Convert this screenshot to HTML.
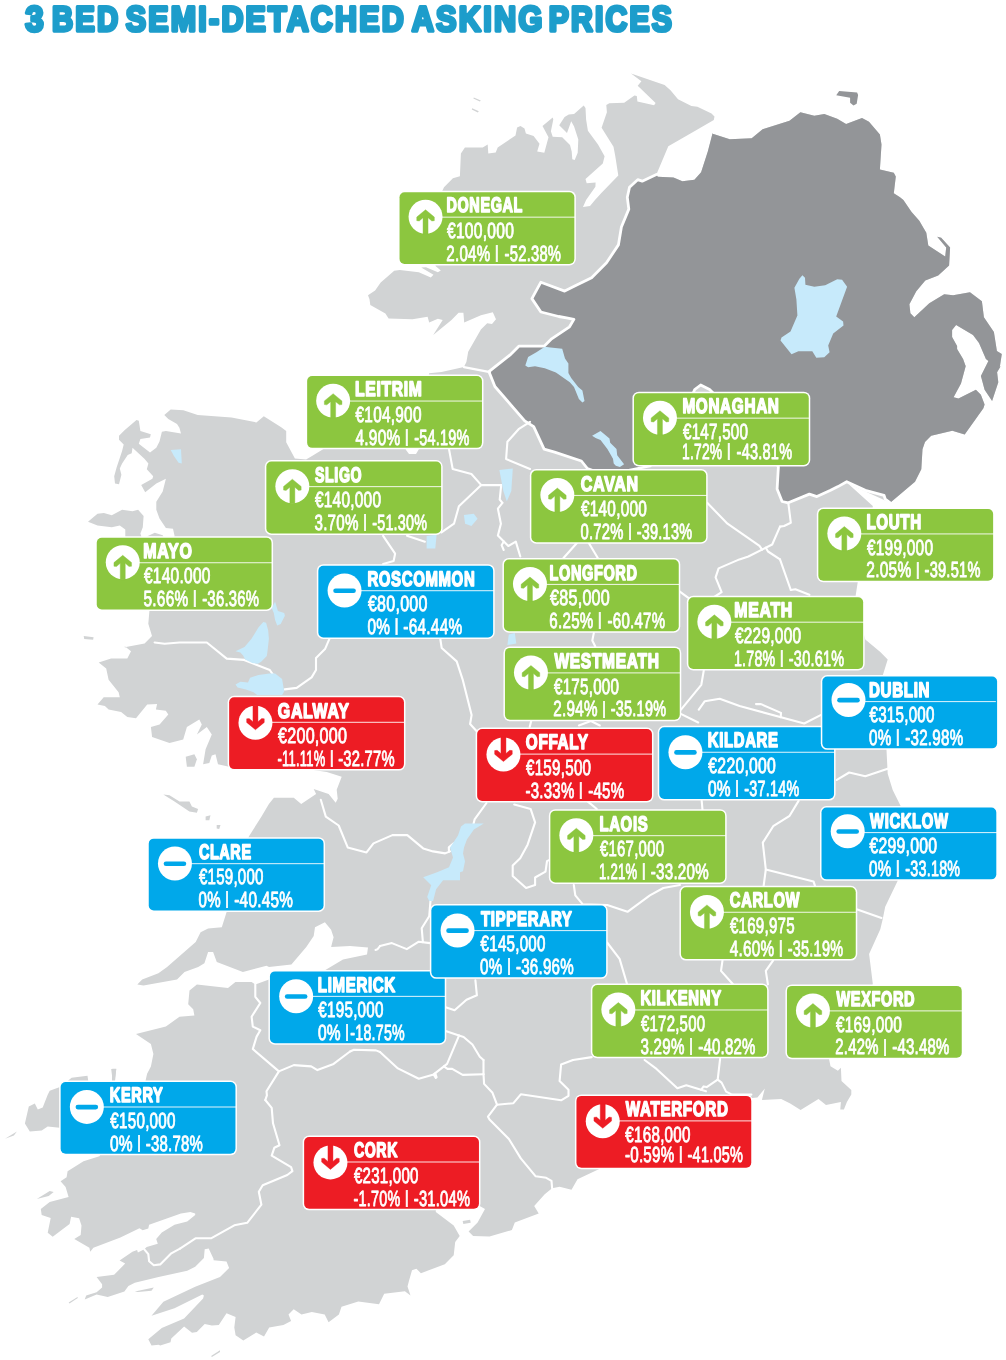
<!DOCTYPE html>
<html lang="en">
<head>
<meta charset="utf-8">
<title>3 Bed Semi-Detached Asking Prices</title>
<style>
html,body{margin:0;padding:0;background:#fff;}
body{width:1006px;height:1360px;overflow:hidden;}
svg{display:block;}
text{font-family:"Liberation Sans",sans-serif;font-weight:bold;fill:#fff;stroke:#fff;stroke-linejoin:round;text-rendering:geometricPrecision;}
.n{font-size:20.9px;stroke-width:1.6px;letter-spacing:0.9px;}
.v{font-size:22.0px;stroke-width:0.9px;letter-spacing:0.35px;}
.v,.p{font-weight:normal;}
.p{font-size:17.6px;stroke-width:.5px;}
.t{font-size:35.3px;letter-spacing:2.6px;fill:#1d9dcb;stroke:#1d9dcb;stroke-width:3.5px;stroke-linejoin:round;}
.land{fill:#d1d3d4;}
.ni{fill:#939598;}
.lake{fill:#c7eafb;}
.bd{fill:none;stroke:#fff;stroke-width:2.1;stroke-linejoin:round;stroke-linecap:round;}
</style>
</head>
<body>
<svg width="1006" height="1360" viewBox="0 0 1006 1360">
<rect width="1006" height="1360" fill="#fff"/>
<text class="t" id="title"><tspan class="t" x="25.19" y="31.15" textLength="20.78" lengthAdjust="spacingAndGlyphs">3</tspan> <tspan class="t" x="51.90" y="31.15" textLength="68.43" lengthAdjust="spacingAndGlyphs">BED</tspan> <tspan class="t" x="125.74" y="31.15" textLength="280.25" lengthAdjust="spacingAndGlyphs">SEMI-DETACHED</tspan> <tspan class="t" x="411.73" y="31.15" textLength="132.79" lengthAdjust="spacingAndGlyphs">ASKING</tspan> <tspan class="t" x="548.74" y="31.15" textLength="125.32" lengthAdjust="spacingAndGlyphs">PRICES</tspan></text>
<g id="map">
<path class="land" d="M847.9 483.6 L872.8 506 L872 520 L862 560 L857.9 581.1 L855.4 597.3 L860 620 L865.3 639.5 L880.3 651.9 L887.7 659.4 L882.7 675.6 L884 710 L886.5 750.1 L887.7 773.7 L892.7 790 L901.4 807.4 L903 850 L897.7 880.7 L885.2 906.8 L882.7 919.2 L880.3 929.2 L869.1 954 L872.8 983.8 L860 1030 L829 1058.8 L830.5 1066.2 L837.9 1070.7 L840.9 1067.7 L841.5 1081.1 L851.3 1090.1 L851.3 1094.6 L846.9 1102 L843.9 1109.5 L840.3 1109.5 L840.9 1102 L826 1105 L818.5 1099 L800.6 1110.1 L790.2 1103.5 L781.2 1099 L761.9 1099.9 L764.8 1088.6 L757.4 1097.5 L752 1098.1 L700 1130 L599.8 1168.8 L577.5 1179.3 L571.5 1189.7 L559.6 1186.7 L552.1 1188.2 L544.7 1194.2 L534.2 1206.1 L538.7 1213.6 L514.8 1222.5 L511.9 1230 L489.5 1236.5 L473.1 1235.9 L468.6 1231.5 L477.6 1222.5 L485 1209.1 L479.7 1206.1 L435.8 1206.1 L435.8 1212.1 L453.7 1225.5 L459.7 1235.9 L455.2 1241.9 L453.7 1255.3 L444.8 1264.3 L420.9 1273.2 L416.4 1268.7 L412 1270.2 L409 1280.7 L407.5 1286.6 L410.5 1295.6 L404.9 1291.3 L384.2 1293.8 L379 1304.2 L358.3 1301.6 L341.5 1306.8 L338.9 1314.5 L328.6 1322.3 L324.7 1314.5 L311.8 1311.9 L301.5 1314.5 L293.7 1309.3 L288.5 1314.5 L291.1 1321 L283.4 1324.9 L269.2 1327.4 L264 1336.5 L256.2 1332.6 L243.3 1340.4 L235.6 1335.2 L234.3 1327.4 L235.6 1317.1 L226.5 1313.2 L218.8 1324.9 L211.9 1325.6 L204.7 1324.1 L196.8 1332 L192 1332.8 L184.1 1326.4 L171.3 1338.4 L170.5 1342.3 L160.2 1345.5 L158.6 1344.7 L151.5 1345.5 L148.3 1339.2 L161.8 1328 L184.1 1318.5 L203.1 1298.6 L203.9 1295.4 L202.3 1294.6 L174.5 1308.2 L151.5 1315.8 L163.4 1301.8 L195.2 1286.7 L220 1277.1 L229.1 1268 L226.5 1261.5 L213.6 1260.2 L213.5 1258.8 L208.7 1248.5 L204.7 1249.3 L203.9 1258.1 L195.2 1266.8 L187.2 1270.8 L158.6 1277.1 L134.8 1282.7 L128.4 1285.9 L124.4 1291.5 L107.7 1297 L96.6 1294.6 L84.7 1299.4 L86.2 1295.4 L96.6 1292.2 L102.1 1287.5 L102.1 1284.3 L96.6 1277.1 L114.1 1274.8 L125.2 1263.6 L119.6 1260.4 L132.4 1251.7 L137.1 1250.1 L137.9 1252.5 L144.3 1249.3 L146.7 1246.9 L157.8 1243.7 L156.2 1239 L161.8 1232.6 L174.5 1224.7 L187.2 1221.5 L195.2 1215.1 L195.2 1213.5 L190.4 1211.9 L180.9 1213.5 L149.1 1224.7 L148.3 1228.6 L142.7 1230.2 L139.5 1228.3 L120.4 1237.4 L93.4 1247.7 L90.2 1251.7 L89.4 1247.7 L74.3 1239 L80.7 1235 L81.5 1225.4 L79.1 1218.3 L71.1 1216.7 L69.6 1223.9 L52.7 1236.8 L47.7 1232.8 L50.7 1217.9 L41.7 1215 L40.8 1209 L49.7 1202 L68.6 1197.1 L65.6 1187.1 L60.6 1181.2 L66.6 1177.2 L67.6 1171.2 L83.5 1161.3 L99.4 1156.3 L110 1140 L62 1128 L47.7 1126.5 L41.7 1130.5 L29.8 1131.5 L24.9 1123.5 L28.8 1106.6 L34.8 1103.6 L37.8 1109.6 L42.7 1107.6 L47.7 1094.7 L49.7 1090.7 L60.6 1086.7 L71.6 1077.8 L87.5 1075.8 L88.5 1082.7 L111.9 1082.7 L112.3 1068.8 L116.3 1068.8 L114.9 1082.7 L145.1 1082.7 L147.1 1073.8 L150.9 1066.4 L153.4 1054 L150.9 1044 L136 1034.1 L165.9 1026.6 L179.5 1016.7 L194.4 1015.4 L193.2 1009.2 L188.2 1004.3 L189.5 990.6 L196.9 984.4 L228 988.1 L235.4 981.9 L251.6 981.9 L255.3 984.4 L269 979.4 L300 985 L322 972 L343 959.5 L367 954.5 L368 947.5 L350 946 L331.1 947.1 L333.6 937.2 L331.1 929.7 L324.9 922.2 L315 927.2 L313.7 935.9 L306.3 947.1 L291.4 964.5 L269 967 L266.5 965.7 L242.9 971.9 L216.8 962 L213.1 952.1 L208.1 952.1 L204.4 963.3 L198.2 967 L184.5 971.9 L177 979.4 L143.5 985.6 L137.3 984.4 L142.2 979.4 L158.4 973.2 L167.1 967 L195.7 942.1 L200.6 932.2 L208.1 928.5 L221.8 927.2 L226.7 911.8 L235 880 L245 845 L249 836.3 L261.5 816.4 L268.9 804 L273.9 797.8 L293.8 797.8 L301.2 804 L316.1 794.1 L313.7 789.1 L328.6 794.1 L335.7 802.7 L337.7 798.7 L336.7 789.8 L341.7 776.8 L326.8 771.9 L300 768 L240 768 L229.2 766.7 L218 764.3 L215.5 754.3 L211.8 755.6 L209.3 763 L203.1 764.3 L205.6 749.3 L211.8 734.4 L206.8 727 L196.9 734.4 L201.8 724.5 L199.3 719.5 L186.9 727 L183.2 739.4 L169.5 743.1 L152.1 736.9 L150.9 727 L159.6 724.5 L168.3 714.6 L165.8 710.8 L155.9 709.6 L157.1 704.1 L147.2 704.6 L136 718.3 L127.3 717 L121.1 712.1 L108.6 709.6 L104.9 705.9 L97.5 704.6 L103.7 697.2 L119.8 697.2 L118.6 692.2 L108.6 679.8 L106.2 668.6 L98.7 662.4 L111.1 658.6 L127.3 658.6 L131 651.2 L124.8 646.2 L124.7 647.3 L144.6 643.5 L152 636.1 L148.3 623.7 L149.5 610 L160 600 L170 545 L174.6 536 L173 528.8 L165.9 528 L159.5 518.5 L156.3 509.7 L156.3 501.8 L162.7 491.5 L165.9 478.7 L156.3 483.5 L145.2 492.2 L141.2 485.1 L152.4 478.7 L153.2 476.3 L146.8 469.2 L148.4 463.6 L144.4 458.8 L132.5 447.7 L131.7 453.3 L127.7 454.9 L122.1 463.6 L119.8 468.4 L121.4 474.8 L119 484.3 L115 483.5 L114.2 476.3 L116.6 467.6 L122.1 450.9 L123.7 444.5 L119 439.8 L119 435.8 L124.5 430.2 L136.5 419.9 L138.8 420.7 L140.4 431 L148.4 433.4 L150.8 434.2 L150 437.4 L140.4 439 L138.8 443.7 L150 452.5 L156.3 447.7 L159.5 441.4 L161.9 431.8 L165.9 431 L181 433.4 L179.4 427.8 L177 423.9 L168.3 419.1 L164.3 415.1 L170.7 409.5 L183.4 410.3 L197.7 415.1 L231.5 417.4 L256.4 422.4 L263.8 416.2 L281.2 427.3 L286.2 431.1 L286.2 442.2 L294.9 458.4 L306.1 459.6 L312 456 L330 445 L404 445 L406 450 L409 454 L416 454 L419 449 L422 445 L428 380 L429.1 373.3 L441.5 372.1 L463.9 367.1 L466.4 362.1 L468.2 351.8 L480.9 329.5 L487.2 323.2 L492 324 L496 319.2 L492.8 312.3 L480.9 315.2 L464.2 322.4 L463.4 312.8 L458.6 312.8 L451.5 320 L433.2 335.1 L442.7 320 L437.9 318.7 L429.2 322.4 L427.6 316.8 L412.5 319.2 L388.6 318.4 L385.4 313.6 L370.3 304.9 L369.5 299.3 L368 295.3 L375.1 290.6 L380.7 282.6 L394.2 270.7 L399.8 269.9 L418.8 272.3 L430.8 277.4 L433.5 274.7 L421.2 267.5 L426 267.2 L437.9 272.3 L440.8 270.4 L435.5 265.9 L438 200 L444 187.2 L452.9 178.3 L459.9 176.3 L460.9 153.4 L464.9 147.5 L482.7 147.5 L487.7 144.5 L488.3 153.4 L495.7 152.4 L497.7 147.5 L515.5 135.5 L517.1 127.6 L520.5 126 L524.5 128.6 L525.9 133.6 L533.6 136.1 L539.5 143.8 L537.2 151.6 L544.3 152.8 L548.5 137.3 L542.5 125.9 L552.7 117.6 L553.3 119.4 L550.9 131.3 L552.7 136.7 L562.2 137.3 L570 145 L571.7 151.6 L572.3 159.3 L574.7 159.9 L577.7 152.8 L578.3 139.6 L574.1 126.5 L571.2 121.2 L567 133.1 L559.2 125.3 L564.6 117 L568.8 114.6 L574.1 114 L583.7 105.6 L585.5 108 L586.1 119.4 L587.9 130.7 L598 144.4 L604.6 156.3 L602.8 163.5 L585.5 179 L586.7 183.2 L595.6 182.6 L595.4 186.8 L586.1 200 L583 207 L590 206 L595 200 L601.6 192.7 L618.3 175.4 L615.3 156.3 L613.5 146.8 L601.6 127.7 L606.9 112.2 L606.3 105 L609.3 103.3 L624.2 102.7 L634.4 95.5 L636.8 96.1 L637.4 101.5 L654.1 105.2 L655.6 102.9 L637.7 85.8 L641.4 81.3 L631 73.4 L664.6 85 L670.5 90.3 L678 99.2 L691.4 105.9 L697.4 106.7 L711.5 113.4 L714.5 116.4 L713.8 120.1 L694.4 131.3 L668.3 146.2 L656.4 174.5 L657.8 176.7 L673.5 177.5 L682.4 181.2 L694.4 179.7 L701.1 172.3 L707.8 151.4 L712.3 134.2 L711.9 133.6 L729.8 139.2 L751.7 138.2 L762.6 129.2 L789.5 120.7 L800.4 112.3 L814.3 115.7 L824.3 114.1 L837.2 118.7 L846.1 124.1 L862 118.1 L869 121.7 L879.9 134.6 L881.5 144.6 L879.9 169.4 L893.8 172.8 L895.8 176.4 L893.8 193.3 L900 197.2 L903.4 199.9 L911.4 211.8 L919.3 220.8 L926.3 232.7 L928.3 245.6 L945.2 256.5 L946.2 247.6 L937.2 236.7 L941.2 237.7 L950.1 247.6 L949.1 265.5 L938.2 275.4 L925.3 280.4 L916.3 291.3 L909.4 304.3 L910.4 313.2 L914.3 317.2 L929.3 303.3 L944.2 294.3 L953.1 295.3 L970 292.3 L981.9 301.3 L983.9 317.2 L993.9 332.1 L996.9 351 L1001.8 354 L999.8 366.9 L1000.8 366.1 L997.1 372.3 L998.3 382.2 L992.1 400.9 L984.6 389.7 L980.9 376 L988.4 361.1 L985.9 358.9 L979 343 L973 335.1 L956.1 325.1 L952.1 330.1 L952.1 337.1 L957.1 346 L957.1 349 L963.1 358.9 L965.6 365.9 L966 364.9 L961 383.5 L953.6 397.2 L958.5 398.4 L975.9 389.7 L980.9 394.7 L984.6 404.6 L983.4 408.3 L964.7 434.4 L952.3 430.7 L931.2 435.7 L925 441.9 L922.5 449.3 L921.3 469.2 L915 481.7 L890.2 502.8Z"/>
<path class="land" d="M88 521.7 L97.5 513.7 L103.9 512.9 L111.8 515.3 L122.1 509.7 L132.5 511.3 L138.1 509.7 L143.6 516.1 L142.8 527.2 L140.4 533.6 L142 538.4 L125.3 538.4 L125.3 529.6 L119.8 525.6 L111.8 527.2 L97.5 525.6Z"/>
<path class="land" d="M146.8 536.5 L154.8 532.8 L162.7 535.2 L163.5 536.8Z"/>
<path class="land" d="M185.7 756.8 L194.4 754.3 L196.9 759.3 L194.4 766.7 L186.9 766.7Z"/>
<path class="land" d="M163.3 794.6 L169.5 795.3 L179.5 801.5 L189.4 801.5 L191.9 806.5 L198.1 809 L196.9 812.7 L189.4 811.5 L174.5 801.5Z"/>
<path class="land" d="M205.6 816.4 L210.5 815.2 L209.3 820.2 L205.6 820.2Z"/>
<path class="land" d="M216.7 825.1 L220.5 825.1 L219.2 828.9 L216.7 828.4Z"/>
<path class="land" d="M5 1138.8 L16.9 1131.5 L13.9 1135.4Z"/>
<path class="land" d="M36.8 1199 L49.7 1191.1 L53.7 1192.1 L48.7 1196.1Z"/>
<path class="land" d="M134.8 1291.5 L153.8 1287.5 L151.5 1290.7 L137.9 1291.9Z"/>
<path class="land" d="M68.7 1302.6 L77.5 1297 L77.8 1298 L69.5 1303.4Z"/>
<path class="land" d="M211.1 1355.9 L220 1350.3 L220 1351.9 L211.9 1357.1Z"/>
<path class="land" d="M111.2 1068.9 L116.2 1068.9 L114.9 1078.8 L112.4 1078.8Z"/>
<path class="land" d="M83.7 636.1 L93.6 637.3 L93.1 639.8 L84.2 639.1Z"/>
<path class="land" d="M462.7 1221 L470.1 1219.8 L470.7 1222.8 L463.3 1224Z"/>
<path class="land" d="M473.8 97.4 L480.8 100.4 L479.8 101.4 L473.4 98.6Z"/>
<path class="land" d="M472.2 108.3 L478.8 111.3 L477.8 112.5 L471.8 109.5Z"/>
<path class="ni" d="M656.4 174.5 L642.2 181.2 L637.7 179.7 L629.5 187.2 L627.3 197.2 L628.8 209.1 L621.4 227 L618.4 244.9 L606.5 262.8 L591.6 277.7 L573.7 286.6 L564.7 291.1 L540.9 282.2 L531.9 298.6 L540.9 312 L558.7 316.5 L566.5 317.9 L573.9 319.4 L569.5 326.8 L551.6 338.8 L544.1 346.2 L518.8 346.2 L509.8 355.2 L488.9 371.6 L494.9 386.5 L524.7 420.8 L533.7 426.7 L544.1 449.1 L554.6 452.1 L581.4 461 L587.4 468.5 L600 473 L625 471 L650 466 L672 440 L688 405 L694.7 389.5 L700.7 385 L709.6 389.5 L730 410 L760 440 L778.4 466.7 L777.1 489.1 L782.1 501.5 L788.3 502.8 L809.4 494.1 L816.9 496.6 L830.6 490.3 L838 486.6 L846.7 481.7 L865.3 490.3 L884 495.3 L885.2 499 L890.2 502.8 L915 481.7 L921.3 469.2 L922.5 449.3 L925 441.9 L931.2 435.7 L952.3 430.7 L964.7 434.4 L983.4 408.3 L984.6 404.6 L980.9 394.7 L975.9 389.7 L958.5 398.4 L953.6 397.2 L961 383.5 L966 364.9 L965.6 365.9 L963.1 358.9 L957.1 349 L957.1 346 L952.1 337.1 L952.1 330.1 L956.1 325.1 L973 335.1 L979 343 L985.9 358.9 L988.4 361.1 L980.9 376 L984.6 389.7 L992.1 400.9 L998.3 382.2 L997.1 372.3 L1000.8 366.1 L999.8 366.9 L1001.8 354 L996.9 351 L993.9 332.1 L983.9 317.2 L981.9 301.3 L970 292.3 L953.1 295.3 L944.2 294.3 L929.3 303.3 L914.3 317.2 L910.4 313.2 L909.4 304.3 L916.3 291.3 L925.3 280.4 L938.2 275.4 L949.1 265.5 L950.1 247.6 L941.2 237.7 L937.2 236.7 L946.2 247.6 L945.2 256.5 L928.3 245.6 L926.3 232.7 L919.3 220.8 L911.4 211.8 L903.4 199.9 L900 197.2 L893.8 193.3 L895.8 176.4 L893.8 172.8 L879.9 169.4 L881.5 144.6 L879.9 134.6 L869 121.7 L862 118.1 L846.1 124.1 L837.2 118.7 L824.3 114.1 L814.3 115.7 L800.4 112.3 L789.5 120.7 L762.6 129.2 L751.7 138.2 L729.8 139.2 L711.9 133.6 L712.3 134.2 L707.8 151.4 L701.1 172.3 L694.4 179.7 L682.4 181.2 L673.5 177.5 L657.8 176.7Z"/>
<path class="ni" d="M836.2 95.2 L839.2 90.9 L857.1 92.5 L858.1 94.9 L856.7 103.8 L853.5 105.4 L850.1 102.8 L850.1 97.8Z"/>
<path class="bd" style="stroke-width:2.8" d="M656.4 174.5 L642.2 181.2 L637.7 179.7 L629.5 187.2 L627.3 197.2 L628.8 209.1 L621.4 227 L618.4 244.9 L606.5 262.8 L591.6 277.7 L573.7 286.6 L564.7 291.1 L540.9 282.2 L531.9 298.6 L540.9 312 L558.7 316.5 L566.5 317.9 L573.9 319.4 L569.5 326.8 L551.6 338.8 L544.1 346.2 L518.8 346.2 L509.8 355.2 L488.9 371.6 L494.9 386.5 L524.7 420.8 L533.7 426.7 L544.1 449.1 L554.6 452.1 L581.4 461 L587.4 468.5 L600 473 L625 471 L650 466 L672 440 L688 405 L694.7 389.5 L700.7 385 L709.6 389.5 L730 410 L760 440 L778.4 466.7 L777.1 489.1 L782.1 501.5 L788.3 502.8 L809.4 494.1 L816.9 496.6 L830.6 490.3 L838 486.6 L846.7 481.7 L865.3 490.3 L884 495.3 L885.2 499 L890.2 502.8"/>
<path class="bd" d="M552.1 1188.2 L551.5 1180.8 L546.2 1177.8 L535.7 1176.3 L520.8 1158.4 L508.9 1139 L489.5 1119.6 L488 1116.7 L497 1104.7 L513.4 1103.2 L520.8 1094.3 L561.1 1100.3 L568.5 1095.8 L568.5 1089.8 L559.6 1080.9 L561.1 1064.5 L573 1060"/>
<path class="bd" d="M265.3 1100 L271.7 1107.8 L273 1123.3 L279.5 1145.2 L274.3 1147.8 L271.7 1155.6 L291.1 1167.2 L292.4 1171.1 L287.3 1175 L262.7 1185.3 L258.8 1191.7 L261.4 1204.7 L247.2 1222.8 L234.3 1225.3 L211 1238.3 L195.5 1238.3 L180 1248.6"/>
<path class="bd" d="M255.3 984.4 L255.3 996.8 L260.3 1003 L251.6 1016.7 L252.8 1026.6 L260.3 1030.3 L256.6 1036.6 L252.8 1049 L278.9 1071.4 L266.5 1091.2 L266.9 1095.4 L265.3 1100"/>
<path class="bd" d="M320.8 799.7 L325.8 816.6 L338.7 825.5 L347.7 847.4 L366.5 852.4 L373.5 843.4 L392.4 835.1 L407.3 835.1 L423.2 848.4 L433.1 851.4 L445.1 853.4 L450 851.4"/>
<path class="bd" d="M514.2 804.5 L530.6 808.9 L535.1 822.4 L527.6 844.7 L520.2 858.2 L512.7 865.6 L512.7 876 L526.1 888 L535.1 885 L535.1 877.5 L545.5 871.6 L547 861.1 L550 859.6"/>
<path class="bd" d="M798.6 800.9 L789.6 815.8 L773.2 826.2 L762.8 842.6 L765.8 869.5 L813.5 881.4 L815 885.9"/>
<path class="bd" d="M698.8 709.6 L704.8 701.2 L719.7 698.7 L739.6 706.1 L804.2 723.5 L821.6 714.6"/>
<path class="bd" d="M573.8 885 L575.3 895.4 L582.8 904.4 L607.2 905 L627.5 911.8 L649.9 895.4 L663.3 888 L680 885"/>
<path class="bd" d="M780 526.6 L772.2 544.5 L748.4 556.5 L739.4 559.4 L718.6 568.4 L715.6 577.3 L721.6 592.2 L709.6 600"/>
<path class="bd" d="M380 1052 L397.9 1068.4 L418.8 1078.8 L433.7 1074.4 L447.1 1063.9 L459 1035.6"/>
<path class="bd" d="M440.3 639 L441.7 648 L456.7 661.4 L462.6 679.3 L471.6 715.1 L470.1 724 L476.9 731.5"/>
<path class="bd" d="M765.8 869.5 L763.5 886.9"/>
<path class="bd" d="M144.3 1249.3 L148.3 1254.1 L149.1 1261.2 L153.8 1265.2 L160.2 1264.4 L171.3 1253.3 L180 1248.6"/>
<path class="bd" d="M154.6 642.5 L164.6 643.7 L179.5 642.5 L206.8 642.5 L226.7 658.6 L244.1 659.9"/>
<path class="bd" d="M707.2 502.8 L727.5 523.7 L759.5 545.9 L762.1 549.6"/>
<path class="bd" d="M765.8 547.7 L768 551.5 L780 559.4"/>
<path class="bd" d="M433.7 1074.4 L435.8 1077.9 L436.6 1077.2 L435.3 1073.2"/>
<path class="bd" d="M443.9 1066.4 L447.5 1068.9 L452.2 1068.9 L462.7 1074.9 L483.5 1074.3"/>
<path class="bd" d="M278.9 1071.4 L293.8 1065.1 L311.2 1066.4 L317.4 1070.1 L333.6 1063.9 L350 1051.5"/>
<path class="bd" d="M756 704.1 L761 704.1 L781 712.9 L780.7 717.2"/>
<path class="bd" d="M284.7 689.4 L296.7 687.9 L311.6 677.4 L316 670 L316 658.1 L325 649.1 L329.5 638.7"/>
<path class="bd" d="M449 449.1 L452.7 469 L471.4 474 L481.3 485.1 L501.2 485.1"/>
<path class="bd" d="M502.4 502.8 L497.9 508.7 L500.9 523.7 L497.9 535.6 L508.3 546 L515.8 541.6 L520.3 556.5"/>
<path class="bd" d="M530 421.8 L518.6 429.2 L507.4 441.7 L506.1 459 L530 469"/>
<path class="bd" d="M644.6 1060 L656.5 1068.9 L677.4 1088.3 L686.3 1085.3 L706 1091.3"/>
<path class="bd" d="M701.1 1089.8 L703.6 1086.4 L706.7 1087.1 L717.7 1079.6"/>
<path class="bd" d="M788.3 502.8 L790.8 522.7 L784.1 526 L780 526.6"/>
<path class="bd" d="M501.2 485.1 L499.7 499.5 L502.4 502.8"/>
<path class="bd" d="M503.8 541.5 L501.6 545.2 L503.7 550"/>
<path class="bd" d="M481.3 485.1 L458.9 506.3 L454 523.7 L441.5 532.4"/>
<path class="bd" d="M449 851.8 L448.8 847.4 L453.7 843.3"/>
<path class="bd" d="M720.1 1058.8 L717.7 1079.6"/>
<path class="bd" d="M717.7 1079.6 L721.6 1082.6 L726.1 1091.6 L732 1094.6 L751.4 1094.6"/>
<path class="bd" d="M780 559.4 L790.8 590"/>
<path class="bd" d="M836.8 779.9 L849.2 772.5 L865.3 776.2 L887.7 768.7"/>
<path class="bd" d="M380 946.1 L391.9 943.1 L406.8 949.1 L418.8 941.7 L430.1 943.1"/>
<path class="bd" d="M375.5 950 L377.4 949.3 L380 946.1"/>
<path class="bd" d="M430.7 898.4 L429.2 916.3 L421.7 928.2 L422.9 942.2"/>
<path class="bd" d="M475.4 980.4 L476.9 995.3 L466.5 999.8 L454.6 1010.2 L445.6 1007.3"/>
<path class="bd" d="M790.8 590 L795.4 589.2 L809.4 594.8"/>
<path class="bd" d="M483.5 1060 L483.5 1074.3"/>
<path class="bd" d="M483.5 1074.3 L484.1 1083.9 L492.5 1092.8 L497 1104.7"/>
<path class="bd" d="M445.6 1031.1 L459 1035.6"/>
<path class="bd" d="M459 1035.6 L463.6 1037 L472.4 1044.5 L479.8 1056.8 L483.5 1060"/>
<path class="bd" d="M607.1 942.5 L619.6 958.9 L627.1 984.3"/>
<path class="bd" d="M703.8 670.4 L701.3 684.8 L681 709.6"/>
<path class="bd" d="M244.1 659.9 L269.8 670 L275.8 678.9"/>
<path class="bd" d="M383.1 535.8 L395.1 553.7 L393.6 561.1 L383.1 564.1"/>
<path class="bd" d="M573 1060 L591.7 1057.1"/>
<path class="bd" d="M350 1051.5 L354 1049.7 L376 1050.4 L380 1052"/>
<path class="bd" d="M722.5 960.4 L721 970.9 L733 984.3"/>
<path class="bd" d="M463.9 367.1 L490 372.1"/>
<path class="bd" d="M486.5 803 L474.6 819.4 L473.1 825.4"/>
<path class="bd" d="M773.2 960.4 L765.8 970.9 L767.9 984.3"/>
<path class="bd" d="M856.6 909.3 L881.5 918"/>
<path class="bd" d="M578.9 725.5 L590.9 721 L599.8 725.5"/>
<path class="bd" d="M576.9 543 L563.5 558"/>
<path class="bd" d="M680.3 713.6 L698.2 722.5"/>
<path class="bd" d="M407 535.8 L424.9 541.7"/>
<path class="bd" d="M588.8 543 L597.8 558"/>
<path class="bd" d="M676.8 589.3 L688.7 598.2"/>
<path class="bd" d="M593.8 633.1 L592.3 640.5 L595.3 646.5"/>
<path class="bd" d="M587.9 801.6 L596.8 809"/>
<path class="bd" d="M701.7 800.9 L702.5 809.8"/>
<path class="bd" d="M531.2 721 L529.7 727"/>
<path class="lake" d="M271.7 608.1 L275.1 601.8 L277.9 610.9 L284.2 613 L284.9 615.7 L280.7 624.1 L277.2 625.5 L275.1 619.9 L273.8 613Z"/>
<path class="lake" d="M235.5 651.2 L244.5 647.1 L251.5 638.7 L258.4 627.6 L263.3 622 L266.1 622.7 L268.2 630.4 L268.9 638.7 L267.5 651.2 L266.8 656.1 L261.2 661.7 L257.8 663.8 L252.2 663.1 L245.2 659.6 L243.1 655.4 L240.4 652.6Z"/>
<path class="lake" d="M235.5 684.6 L240.4 681.8 L248 682.5 L250.1 677.7 L258.4 674.9 L269.6 673.5 L275.1 673.5 L282.1 679.1 L283.5 687.4 L284.2 691.6 L282.1 695.1 L257.1 695.1 L253.6 692.3 L245.9 689.5 L237.6 687.4Z"/>
<path class="lake" d="M802.4 275.2 L805 277.8 L805.4 284.7 L814.3 286.7 L825.2 285.3 L837.2 279.2 L842.1 279.8 L847.1 286.7 L836.2 316.5 L843.1 321.5 L843.5 325.5 L833.2 333.4 L828.2 345.4 L829.6 352.3 L824.3 357.3 L816.3 357.7 L812.3 351.3 L798.4 351.3 L791.5 354.3 L780.5 340.4 L781.5 337.4 L790.5 331.5 L797.4 315.5 L796.4 299.6 L794.4 287.7 L799.4 278.8Z"/>
<path class="lake" d="M525.3 365.5 L528.1 357.1 L536.4 352.3 L544.8 346.7 L550.4 347.4 L562.2 348.8 L565 358.5 L568.4 363.4 L568.4 373.1 L571.2 378 L578.2 387.1 L582.4 390.5 L584.5 401 L582.4 402.4 L578.9 398.9 L574 387.1 L569.8 382.2 L555.9 372.4 L544.8 368.3 L535 366.2 L528.1 367.3Z"/>
<path class="lake" d="M592.1 435.8 L600.5 430.9 L609.5 438.5 L610.2 442.7 L616.5 449 L617.2 455.2 L624.1 464.3 L619.9 467.1 L615.8 465.7 L613.7 463.6 L613 458.7 L607.4 449 L600.5 439.9 L595.6 437.9Z"/>
<path class="lake" d="M499.4 470 L512.8 468.5 L511.3 490.9 L506.8 501.3 L503.3 490.9Z"/>
<path class="lake" d="M463.9 515 L473.8 513.7 L477.6 518.7 L471.4 526.1 L465.1 523.7Z"/>
<path class="lake" d="M426.6 536.1 L436.6 534.8 L435.3 548.5 L426.6 548.5Z"/>
<path class="lake" d="M170.7 450.1 L181 449.3 L181.8 463.6 L178.6 462.8 L173.8 455.7Z"/>
<path class="lake" d="M461 826.5 L465 823.6 L483.8 823.6 L473.9 829.5 L466.9 839.5 L464 847.4 L463 853.4 L465 861.3 L463 871.3 L460 872.3 L460 880.2 L443.1 880.2 L436.1 889.2 L433.1 901.1 L429.2 901.1 L427.2 897.1 L431.2 885.2 L423.2 877.2 L437.1 872.3 L449 867.3 L453 857.4 L450 847.4 L458 835.5Z"/>
<path class="lake" d="M508.8 634.6 L514.8 633.1 L516.3 643.5 L507.4 645Z"/>
</g>
<g id="labels">
<g><rect x="398.04" y="190.67" width="177.8" height="74.8" rx="6.5" fill="#fff"/><rect x="399.54" y="192.17" width="174.8" height="71.8" rx="5" fill="#8cc63f"/><rect x="441.54" y="216.62" width="133.80" height="1.1" fill="#fff" fill-opacity=".8"/><circle cx="425.54" cy="216.77" r="17" fill="#fff"/><path d="M425.54 209.77 L434.34 217.07 L434.34 220.67 L431.84 220.97 L428.04 217.77 L428.04 234.17 L423.04 234.17 L423.04 217.77 L419.24 220.97 L416.74 220.67 L416.74 217.07Z" fill="#8cc63f" stroke="#8cc63f" stroke-width=".4" stroke-linejoin="round"/><text class="n" x="446.45" y="212.37" textLength="76.61" lengthAdjust="spacingAndGlyphs">DONEGAL</text><text class="v" x="446.95" y="237.92" textLength="67.14" lengthAdjust="spacingAndGlyphs">€100,000</text><text class="v"><tspan class="v" x="446.35" y="260.72" textLength="44.13" lengthAdjust="spacingAndGlyphs">2.04%</tspan> <tspan class="p" x="494.51" y="257.87">|</tspan> <tspan class="v" x="504.57" y="260.72" textLength="56.69" lengthAdjust="spacingAndGlyphs">-52.38%</tspan></text></g>
<g><rect x="305.65" y="374.55" width="177.8" height="74.8" rx="6.5" fill="#fff"/><rect x="307.15" y="376.05" width="174.8" height="71.8" rx="5" fill="#8cc63f"/><rect x="349.15" y="400.50" width="133.80" height="1.1" fill="#fff" fill-opacity=".8"/><circle cx="333.15" cy="400.65" r="17" fill="#fff"/><path d="M333.15 393.65 L341.95 400.95 L341.95 404.55 L339.45 404.85 L335.65 401.65 L335.65 418.05 L330.65 418.05 L330.65 401.65 L326.85 404.85 L324.35 404.55 L324.35 400.95Z" fill="#8cc63f" stroke="#8cc63f" stroke-width=".4" stroke-linejoin="round"/><text class="n" x="354.97" y="396.25" textLength="67.51" lengthAdjust="spacingAndGlyphs">LEITRIM</text><text class="v" x="355.57" y="421.80" textLength="66.12" lengthAdjust="spacingAndGlyphs">€104,900</text><text class="v"><tspan class="v" x="355.41" y="444.60" textLength="45.09" lengthAdjust="spacingAndGlyphs">4.90%</tspan> <tspan class="p" x="404.51" y="441.75">|</tspan> <tspan class="v" x="414.18" y="444.60" textLength="55.48" lengthAdjust="spacingAndGlyphs">-54.19%</tspan></text></g>
<g><rect x="632.45" y="391.66" width="177.8" height="74.8" rx="6.5" fill="#fff"/><rect x="633.95" y="393.16" width="174.8" height="71.8" rx="5" fill="#8cc63f"/><rect x="675.95" y="417.61" width="133.80" height="1.1" fill="#fff" fill-opacity=".8"/><circle cx="659.95" cy="417.76" r="17" fill="#fff"/><path d="M659.95 410.76 L668.75 418.06 L668.75 421.66 L666.25 421.96 L662.45 418.76 L662.45 435.16 L657.45 435.16 L657.45 418.76 L653.65 421.96 L651.15 421.66 L651.15 418.06Z" fill="#8cc63f" stroke="#8cc63f" stroke-width=".4" stroke-linejoin="round"/><text class="n" x="682.38" y="413.36" textLength="97.23" lengthAdjust="spacingAndGlyphs">MONAGHAN</text><text class="v" x="682.95" y="438.91" textLength="65.32" lengthAdjust="spacingAndGlyphs">€147,500</text><text class="v"><tspan class="v" x="681.99" y="458.79" textLength="40.45" lengthAdjust="spacingAndGlyphs">1.72%</tspan> <tspan class="p" x="726.53" y="455.94">|</tspan> <tspan class="v" x="736.60" y="458.79" textLength="55.68" lengthAdjust="spacingAndGlyphs">-43.81%</tspan></text></g>
<g><rect x="264.85" y="460.10" width="177.8" height="74.8" rx="6.5" fill="#fff"/><rect x="266.35" y="461.60" width="174.8" height="71.8" rx="5" fill="#8cc63f"/><rect x="308.35" y="486.05" width="133.80" height="1.1" fill="#fff" fill-opacity=".8"/><circle cx="292.35" cy="486.20" r="17" fill="#fff"/><path d="M292.35 479.20 L301.15 486.50 L301.15 490.10 L298.65 490.40 L294.85 487.20 L294.85 503.60 L289.85 503.60 L289.85 487.20 L286.05 490.40 L283.55 490.10 L283.55 486.50Z" fill="#8cc63f" stroke="#8cc63f" stroke-width=".4" stroke-linejoin="round"/><text class="n" x="315.03" y="481.80" textLength="47.14" lengthAdjust="spacingAndGlyphs">SLIGO</text><text class="v" x="314.96" y="507.35" textLength="66.32" lengthAdjust="spacingAndGlyphs">€140,000</text><text class="v"><tspan class="v" x="314.50" y="530.15" textLength="44.18" lengthAdjust="spacingAndGlyphs">3.70%</tspan> <tspan class="p" x="362.71" y="527.30">|</tspan> <tspan class="v" x="372.19" y="530.15" textLength="55.08" lengthAdjust="spacingAndGlyphs">-51.30%</tspan></text></g>
<g><rect x="529.85" y="468.97" width="177.8" height="74.8" rx="6.5" fill="#fff"/><rect x="531.35" y="470.47" width="174.8" height="71.8" rx="5" fill="#8cc63f"/><rect x="573.35" y="494.92" width="133.80" height="1.1" fill="#fff" fill-opacity=".8"/><circle cx="557.35" cy="495.07" r="17" fill="#fff"/><path d="M557.35 488.07 L566.15 495.37 L566.15 498.97 L563.65 499.27 L559.85 496.07 L559.85 512.47 L554.85 512.47 L554.85 496.07 L551.05 499.27 L548.55 498.97 L548.55 495.37Z" fill="#8cc63f" stroke="#8cc63f" stroke-width=".4" stroke-linejoin="round"/><text class="n" x="580.81" y="490.67" textLength="58.07" lengthAdjust="spacingAndGlyphs">CAVAN</text><text class="v" x="580.95" y="516.22" textLength="66.13" lengthAdjust="spacingAndGlyphs">€140,000</text><text class="v"><tspan class="v" x="580.51" y="539.02" textLength="43.16" lengthAdjust="spacingAndGlyphs">0.72%</tspan> <tspan class="p" x="627.71" y="536.17">|</tspan> <tspan class="v" x="636.79" y="539.02" textLength="55.48" lengthAdjust="spacingAndGlyphs">-39.13%</tspan></text></g>
<g><rect x="816.83" y="507.42" width="177.8" height="74.8" rx="6.5" fill="#fff"/><rect x="818.33" y="508.92" width="174.8" height="71.8" rx="5" fill="#8cc63f"/><rect x="860.33" y="533.37" width="133.80" height="1.1" fill="#fff" fill-opacity=".8"/><circle cx="844.33" cy="533.52" r="17" fill="#fff"/><path d="M844.33 526.52 L853.13 533.82 L853.13 537.42 L850.63 537.72 L846.83 534.52 L846.83 550.92 L841.83 550.92 L841.83 534.52 L838.03 537.72 L835.53 537.42 L835.53 533.82Z" fill="#8cc63f" stroke="#8cc63f" stroke-width=".4" stroke-linejoin="round"/><text class="n" x="866.38" y="529.12" textLength="55.50" lengthAdjust="spacingAndGlyphs">LOUTH</text><text class="v" x="866.94" y="554.67" textLength="66.32" lengthAdjust="spacingAndGlyphs">€199,000</text><text class="v"><tspan class="v" x="866.32" y="577.47" textLength="45.16" lengthAdjust="spacingAndGlyphs">2.05%</tspan> <tspan class="p" x="915.48" y="574.62">|</tspan> <tspan class="v" x="924.56" y="577.47" textLength="56.08" lengthAdjust="spacingAndGlyphs">-39.51%</tspan></text></g>
<g><rect x="95.25" y="536.22" width="177.8" height="74.8" rx="6.5" fill="#fff"/><rect x="96.75" y="537.72" width="174.8" height="71.8" rx="5" fill="#8cc63f"/><rect x="138.75" y="562.17" width="133.80" height="1.1" fill="#fff" fill-opacity=".8"/><circle cx="122.75" cy="562.32" r="17" fill="#fff"/><path d="M122.75 555.32 L131.55 562.62 L131.55 566.22 L129.05 566.52 L125.25 563.32 L125.25 579.72 L120.25 579.72 L120.25 563.32 L116.45 566.52 L113.95 566.22 L113.95 562.62Z" fill="#8cc63f" stroke="#8cc63f" stroke-width=".4" stroke-linejoin="round"/><text class="n" x="143.36" y="557.92" textLength="49.12" lengthAdjust="spacingAndGlyphs">MAYO</text><text class="v" x="143.97" y="583.47" textLength="66.73" lengthAdjust="spacingAndGlyphs">€140.000</text><text class="v"><tspan class="v" x="143.51" y="606.27" textLength="45.00" lengthAdjust="spacingAndGlyphs">5.66%</tspan> <tspan class="p" x="192.52" y="603.42">|</tspan> <tspan class="v" x="202.18" y="606.27" textLength="57.10" lengthAdjust="spacingAndGlyphs">-36.36%</tspan></text></g>
<g><rect x="316.85" y="564.18" width="177.8" height="74.8" rx="6.5" fill="#fff"/><rect x="318.35" y="565.68" width="174.8" height="71.8" rx="5" fill="#00a8ea"/><rect x="360.55" y="590.13" width="133.60" height="1.1" fill="#fff" fill-opacity=".8"/><circle cx="344.55" cy="590.58" r="17" fill="#fff"/><rect x="333.25" y="588.48" width="22.6" height="4.6" rx="2.3" fill="#00a8ea"/><text class="n" x="367.40" y="585.88" textLength="107.94" lengthAdjust="spacingAndGlyphs">ROSCOMMON</text><text class="v" x="367.94" y="611.43" textLength="59.72" lengthAdjust="spacingAndGlyphs">€80,000</text><text class="v"><tspan class="v" x="367.48" y="634.23" textLength="22.73" lengthAdjust="spacingAndGlyphs">0%</tspan> <tspan class="p" x="394.23" y="631.38">|</tspan> <tspan class="v" x="403.27" y="634.23" textLength="59.14" lengthAdjust="spacingAndGlyphs">-64.44%</tspan></text></g>
<g><rect x="502.45" y="557.94" width="177.8" height="74.8" rx="6.5" fill="#fff"/><rect x="503.95" y="559.44" width="174.8" height="71.8" rx="5" fill="#8cc63f"/><rect x="545.95" y="583.89" width="133.80" height="1.1" fill="#fff" fill-opacity=".8"/><circle cx="529.95" cy="584.04" r="17" fill="#fff"/><path d="M529.95 577.04 L538.75 584.34 L538.75 587.94 L536.25 588.24 L532.45 585.04 L532.45 601.44 L527.45 601.44 L527.45 585.04 L523.65 588.24 L521.15 587.94 L521.15 584.34Z" fill="#8cc63f" stroke="#8cc63f" stroke-width=".4" stroke-linejoin="round"/><text class="n" x="549.46" y="579.64" textLength="88.12" lengthAdjust="spacingAndGlyphs">LONGFORD</text><text class="v" x="549.97" y="605.19" textLength="60.11" lengthAdjust="spacingAndGlyphs">€85,000</text><text class="v"><tspan class="v" x="549.37" y="627.99" textLength="44.13" lengthAdjust="spacingAndGlyphs">6.25%</tspan> <tspan class="p" x="597.53" y="625.14">|</tspan> <tspan class="v" x="607.58" y="627.99" textLength="57.72" lengthAdjust="spacingAndGlyphs">-60.47%</tspan></text></g>
<g><rect x="686.85" y="595.70" width="177.8" height="74.8" rx="6.5" fill="#fff"/><rect x="688.35" y="597.20" width="174.8" height="71.8" rx="5" fill="#8cc63f"/><rect x="730.35" y="621.65" width="133.80" height="1.1" fill="#fff" fill-opacity=".8"/><circle cx="714.35" cy="621.80" r="17" fill="#fff"/><path d="M714.35 614.80 L723.15 622.10 L723.15 625.70 L720.65 626.00 L716.85 622.80 L716.85 639.20 L711.85 639.20 L711.85 622.80 L708.05 626.00 L705.55 625.70 L705.55 622.10Z" fill="#8cc63f" stroke="#8cc63f" stroke-width=".4" stroke-linejoin="round"/><text class="n" x="734.36" y="617.40" textLength="58.58" lengthAdjust="spacingAndGlyphs">MEATH</text><text class="v" x="734.97" y="642.95" textLength="66.32" lengthAdjust="spacingAndGlyphs">€229,000</text><text class="v"><tspan class="v" x="733.98" y="665.75" textLength="41.49" lengthAdjust="spacingAndGlyphs">1.78%</tspan> <tspan class="p" x="779.54" y="662.90">|</tspan> <tspan class="v" x="788.82" y="665.75" textLength="55.48" lengthAdjust="spacingAndGlyphs">-30.61%</tspan></text></g>
<g><rect x="503.45" y="646.39" width="177.8" height="74.8" rx="6.5" fill="#fff"/><rect x="504.95" y="647.89" width="174.8" height="71.8" rx="5" fill="#8cc63f"/><rect x="546.95" y="672.34" width="133.80" height="1.1" fill="#fff" fill-opacity=".8"/><circle cx="530.95" cy="672.49" r="17" fill="#fff"/><path d="M530.95 665.49 L539.75 672.79 L539.75 676.39 L537.25 676.69 L533.45 673.49 L533.45 689.89 L528.45 689.89 L528.45 673.49 L524.65 676.69 L522.15 676.39 L522.15 672.79Z" fill="#8cc63f" stroke="#8cc63f" stroke-width=".4" stroke-linejoin="round"/><text class="n" x="554.45" y="668.09" textLength="105.12" lengthAdjust="spacingAndGlyphs">WESTMEATH</text><text class="v" x="553.95" y="693.64" textLength="65.32" lengthAdjust="spacingAndGlyphs">€175,000</text><text class="v"><tspan class="v" x="553.34" y="716.44" textLength="44.34" lengthAdjust="spacingAndGlyphs">2.94%</tspan> <tspan class="p" x="601.70" y="713.59">|</tspan> <tspan class="v" x="610.78" y="716.44" textLength="55.48" lengthAdjust="spacingAndGlyphs">-35.19%</tspan></text></g>
<g><rect x="227.65" y="695.82" width="177.8" height="74.8" rx="6.5" fill="#fff"/><rect x="229.15" y="697.32" width="174.8" height="71.8" rx="5" fill="#ed1c24"/><rect x="271.45" y="721.77" width="133.50" height="1.1" fill="#fff" fill-opacity=".8"/><circle cx="255.45" cy="722.72" r="17" fill="#fff"/><path d="M255.45 729.72 L264.25 722.42 L264.25 718.82 L261.75 718.52 L257.95 721.72 L257.95 705.32 L252.95 705.32 L252.95 721.72 L249.15 718.52 L246.65 718.82 L246.65 722.42Z" fill="#ed1c24" stroke="#ed1c24" stroke-width=".4" stroke-linejoin="round"/><text class="n" x="277.83" y="717.52" textLength="71.64" lengthAdjust="spacingAndGlyphs">GALWAY</text><text class="v" x="277.96" y="743.07" textLength="69.35" lengthAdjust="spacingAndGlyphs">€200,000</text><text class="v"><tspan class="v" x="277.60" y="765.87" textLength="47.76" lengthAdjust="spacingAndGlyphs">-11.11%</tspan> <tspan class="p" x="329.49" y="763.02">|</tspan> <tspan class="v" x="338.16" y="765.87" textLength="56.69" lengthAdjust="spacingAndGlyphs">-32.77%</tspan></text></g>
<g><rect x="475.65" y="727.62" width="177.8" height="74.8" rx="6.5" fill="#fff"/><rect x="477.15" y="729.12" width="174.8" height="71.8" rx="5" fill="#ed1c24"/><rect x="519.45" y="753.57" width="133.50" height="1.1" fill="#fff" fill-opacity=".8"/><circle cx="503.45" cy="754.52" r="17" fill="#fff"/><path d="M503.45 761.52 L512.25 754.22 L512.25 750.62 L509.75 750.32 L505.95 753.52 L505.95 737.12 L500.95 737.12 L500.95 753.52 L497.15 750.32 L494.65 750.62 L494.65 754.22Z" fill="#ed1c24" stroke="#ed1c24" stroke-width=".4" stroke-linejoin="round"/><text class="n" x="525.86" y="749.32" textLength="62.88" lengthAdjust="spacingAndGlyphs">OFFALY</text><text class="v" x="525.97" y="774.87" textLength="65.31" lengthAdjust="spacingAndGlyphs">€159,500</text><text class="v"><tspan class="v" x="525.52" y="797.67" textLength="48.98" lengthAdjust="spacingAndGlyphs">-3.33%</tspan> <tspan class="p" x="578.49" y="794.82">|</tspan> <tspan class="v" x="588.14" y="797.67" textLength="36.25" lengthAdjust="spacingAndGlyphs">-45%</tspan></text></g>
<g><rect x="657.75" y="725.78" width="177.8" height="74.8" rx="6.5" fill="#fff"/><rect x="659.25" y="727.28" width="174.8" height="71.8" rx="5" fill="#00a8ea"/><rect x="701.45" y="751.73" width="133.60" height="1.1" fill="#fff" fill-opacity=".8"/><circle cx="685.45" cy="752.18" r="17" fill="#fff"/><rect x="674.15" y="750.08" width="22.6" height="4.6" rx="2.3" fill="#00a8ea"/><text class="n" x="707.82" y="747.48" textLength="70.78" lengthAdjust="spacingAndGlyphs">KILDARE</text><text class="v" x="708.35" y="773.03" textLength="67.75" lengthAdjust="spacingAndGlyphs">€220,000</text><text class="v"><tspan class="v" x="707.89" y="795.83" textLength="22.95" lengthAdjust="spacingAndGlyphs">0%</tspan> <tspan class="p" x="734.84" y="792.98">|</tspan> <tspan class="v" x="744.33" y="795.83" textLength="55.07" lengthAdjust="spacingAndGlyphs">-37.14%</tspan></text></g>
<g><rect x="820.80" y="675.06" width="177.8" height="74.8" rx="6.5" fill="#fff"/><rect x="822.30" y="676.56" width="174.8" height="71.8" rx="5" fill="#00a8ea"/><rect x="864.50" y="701.01" width="131.36" height="1.1" fill="#fff" fill-opacity=".8"/><circle cx="848.50" cy="699.96" r="17" fill="#fff"/><rect x="837.20" y="697.86" width="22.6" height="4.6" rx="2.3" fill="#00a8ea"/><text class="n" x="868.96" y="696.76" textLength="61.17" lengthAdjust="spacingAndGlyphs">DUBLIN</text><text class="v" x="869.52" y="722.31" textLength="65.12" lengthAdjust="spacingAndGlyphs">€315,000</text><text class="v"><tspan class="v" x="869.06" y="745.11" textLength="22.52" lengthAdjust="spacingAndGlyphs">0%</tspan> <tspan class="p" x="895.60" y="742.26">|</tspan> <tspan class="v" x="905.24" y="745.11" textLength="58.13" lengthAdjust="spacingAndGlyphs">-32.98%</tspan></text></g>
<g><rect x="548.85" y="809.14" width="177.8" height="74.8" rx="6.5" fill="#fff"/><rect x="550.35" y="810.64" width="174.8" height="71.8" rx="5" fill="#8cc63f"/><rect x="592.35" y="835.09" width="133.80" height="1.1" fill="#fff" fill-opacity=".8"/><circle cx="576.35" cy="835.24" r="17" fill="#fff"/><path d="M576.35 828.24 L585.15 835.54 L585.15 839.14 L582.65 839.44 L578.85 836.24 L578.85 852.64 L573.85 852.64 L573.85 836.24 L570.05 839.44 L567.55 839.14 L567.55 835.54Z" fill="#8cc63f" stroke="#8cc63f" stroke-width=".4" stroke-linejoin="round"/><text class="n" x="599.40" y="830.84" textLength="48.93" lengthAdjust="spacingAndGlyphs">LAOIS</text><text class="v" x="599.95" y="856.39" textLength="64.31" lengthAdjust="spacingAndGlyphs">€167,000</text><text class="v"><tspan class="v" x="599.05" y="879.19" textLength="38.37" lengthAdjust="spacingAndGlyphs">1.21%</tspan> <tspan class="p" x="641.54" y="876.34">|</tspan> <tspan class="v" x="650.79" y="879.19" textLength="58.12" lengthAdjust="spacingAndGlyphs">-33.20%</tspan></text></g>
<g><rect x="820.01" y="806.06" width="177.8" height="74.8" rx="6.5" fill="#fff"/><rect x="821.51" y="807.56" width="174.8" height="71.8" rx="5" fill="#00a8ea"/><rect x="863.71" y="832.01" width="133.60" height="1.1" fill="#fff" fill-opacity=".8"/><circle cx="847.71" cy="831.26" r="17" fill="#fff"/><rect x="836.41" y="829.16" width="22.6" height="4.6" rx="2.3" fill="#00a8ea"/><text class="n" x="870.02" y="827.76" textLength="78.48" lengthAdjust="spacingAndGlyphs">WICKLOW</text><text class="v" x="869.51" y="853.31" textLength="67.75" lengthAdjust="spacingAndGlyphs">€299,000</text><text class="v"><tspan class="v" x="869.06" y="876.11" textLength="22.52" lengthAdjust="spacingAndGlyphs">0%</tspan> <tspan class="p" x="895.60" y="873.26">|</tspan> <tspan class="v" x="905.28" y="876.11" textLength="55.08" lengthAdjust="spacingAndGlyphs">-33.18%</tspan></text></g>
<g><rect x="147.25" y="837.14" width="177.8" height="74.8" rx="6.5" fill="#fff"/><rect x="148.75" y="838.64" width="174.8" height="71.8" rx="5" fill="#00a8ea"/><rect x="190.95" y="863.09" width="133.60" height="1.1" fill="#fff" fill-opacity=".8"/><circle cx="174.95" cy="863.54" r="17" fill="#fff"/><rect x="163.65" y="861.44" width="22.6" height="4.6" rx="2.3" fill="#00a8ea"/><text class="n" x="198.88" y="858.84" textLength="52.77" lengthAdjust="spacingAndGlyphs">CLARE</text><text class="v" x="198.96" y="884.39" textLength="64.71" lengthAdjust="spacingAndGlyphs">€159,000</text><text class="v"><tspan class="v" x="198.51" y="907.19" textLength="22.31" lengthAdjust="spacingAndGlyphs">0%</tspan> <tspan class="p" x="224.84" y="904.34">|</tspan> <tspan class="v" x="234.29" y="907.19" textLength="58.73" lengthAdjust="spacingAndGlyphs">-40.45%</tspan></text></g>
<g><rect x="679.45" y="885.78" width="177.8" height="74.8" rx="6.5" fill="#fff"/><rect x="680.95" y="887.28" width="174.8" height="71.8" rx="5" fill="#8cc63f"/><rect x="722.95" y="911.73" width="133.80" height="1.1" fill="#fff" fill-opacity=".8"/><circle cx="706.95" cy="911.88" r="17" fill="#fff"/><path d="M706.95 904.88 L715.75 912.18 L715.75 915.78 L713.25 916.08 L709.45 912.88 L709.45 929.28 L704.45 929.28 L704.45 912.88 L700.65 916.08 L698.15 915.78 L698.15 912.18Z" fill="#8cc63f" stroke="#8cc63f" stroke-width=".4" stroke-linejoin="round"/><text class="n" x="729.87" y="907.48" textLength="70.19" lengthAdjust="spacingAndGlyphs">CARLOW</text><text class="v" x="729.96" y="933.03" textLength="64.86" lengthAdjust="spacingAndGlyphs">€169,975</text><text class="v"><tspan class="v" x="729.80" y="955.83" textLength="44.68" lengthAdjust="spacingAndGlyphs">4.60%</tspan> <tspan class="p" x="778.50" y="952.98">|</tspan> <tspan class="v" x="787.78" y="955.83" textLength="55.48" lengthAdjust="spacingAndGlyphs">-35.19%</tspan></text></g>
<g><rect x="268.45" y="969.90" width="177.8" height="74.8" rx="6.5" fill="#fff"/><rect x="269.95" y="971.40" width="174.8" height="71.8" rx="5" fill="#00a8ea"/><rect x="312.15" y="995.85" width="133.60" height="1.1" fill="#fff" fill-opacity=".8"/><circle cx="296.15" cy="996.30" r="17" fill="#fff"/><rect x="284.85" y="994.20" width="22.6" height="4.6" rx="2.3" fill="#00a8ea"/><text class="n" x="317.80" y="991.60" textLength="78.04" lengthAdjust="spacingAndGlyphs">LIMERICK</text><text class="v" x="318.36" y="1017.15" textLength="65.32" lengthAdjust="spacingAndGlyphs">€195,000</text><text class="v"><tspan class="v" x="317.89" y="1039.95" textLength="22.95" lengthAdjust="spacingAndGlyphs">0%</tspan> <tspan class="p" x="344.84" y="1037.10">|</tspan><tspan class="v" x="350.35" y="1039.95" textLength="54.66" lengthAdjust="spacingAndGlyphs">-18.75%</tspan></text></g>
<g><rect x="429.85" y="904.06" width="177.8" height="74.8" rx="6.5" fill="#fff"/><rect x="431.35" y="905.56" width="174.8" height="71.8" rx="5" fill="#00a8ea"/><rect x="473.55" y="930.01" width="133.60" height="1.1" fill="#fff" fill-opacity=".8"/><circle cx="457.55" cy="930.46" r="17" fill="#fff"/><rect x="446.25" y="928.36" width="22.6" height="4.6" rx="2.3" fill="#00a8ea"/><text class="n" x="480.91" y="925.76" textLength="91.69" lengthAdjust="spacingAndGlyphs">TIPPERARY</text><text class="v" x="480.56" y="951.31" textLength="65.12" lengthAdjust="spacingAndGlyphs">€145,000</text><text class="v"><tspan class="v" x="480.10" y="974.11" textLength="22.51" lengthAdjust="spacingAndGlyphs">0%</tspan> <tspan class="p" x="506.63" y="971.26">|</tspan> <tspan class="v" x="515.88" y="974.11" textLength="58.13" lengthAdjust="spacingAndGlyphs">-36.96%</tspan></text></g>
<g><rect x="590.85" y="983.46" width="177.8" height="74.8" rx="6.5" fill="#fff"/><rect x="592.35" y="984.96" width="174.8" height="71.8" rx="5" fill="#8cc63f"/><rect x="634.35" y="1009.41" width="133.80" height="1.1" fill="#fff" fill-opacity=".8"/><circle cx="618.35" cy="1009.56" r="17" fill="#fff"/><path d="M618.35 1002.56 L627.15 1009.86 L627.15 1013.46 L624.65 1013.76 L620.85 1010.56 L620.85 1026.96 L615.85 1026.96 L615.85 1010.56 L612.05 1013.76 L609.55 1013.46 L609.55 1009.86Z" fill="#8cc63f" stroke="#8cc63f" stroke-width=".4" stroke-linejoin="round"/><text class="n" x="640.42" y="1005.16" textLength="81.31" lengthAdjust="spacingAndGlyphs">KILKENNY</text><text class="v" x="640.96" y="1030.71" textLength="64.30" lengthAdjust="spacingAndGlyphs">€172,500</text><text class="v"><tspan class="v" x="640.50" y="1053.51" textLength="44.18" lengthAdjust="spacingAndGlyphs">3.29%</tspan> <tspan class="p" x="688.71" y="1050.66">|</tspan> <tspan class="v" x="698.16" y="1053.51" textLength="57.51" lengthAdjust="spacingAndGlyphs">-40.82%</tspan></text></g>
<g><rect x="785.45" y="984.38" width="177.8" height="74.8" rx="6.5" fill="#fff"/><rect x="786.95" y="985.88" width="174.8" height="71.8" rx="5" fill="#8cc63f"/><rect x="828.95" y="1010.33" width="133.80" height="1.1" fill="#fff" fill-opacity=".8"/><circle cx="812.95" cy="1010.48" r="17" fill="#fff"/><path d="M812.95 1003.48 L821.75 1010.78 L821.75 1014.38 L819.25 1014.68 L815.45 1011.48 L815.45 1027.88 L810.45 1027.88 L810.45 1011.48 L806.65 1014.68 L804.15 1014.38 L804.15 1010.78Z" fill="#8cc63f" stroke="#8cc63f" stroke-width=".4" stroke-linejoin="round"/><text class="n" x="836.45" y="1006.08" textLength="78.75" lengthAdjust="spacingAndGlyphs">WEXFORD</text><text class="v" x="835.95" y="1031.63" textLength="66.13" lengthAdjust="spacingAndGlyphs">€169,000</text><text class="v"><tspan class="v" x="835.36" y="1054.43" textLength="43.31" lengthAdjust="spacingAndGlyphs">2.42%</tspan> <tspan class="p" x="882.71" y="1051.58">|</tspan> <tspan class="v" x="892.16" y="1054.43" textLength="57.51" lengthAdjust="spacingAndGlyphs">-43.48%</tspan></text></g>
<g><rect x="59.15" y="1080.50" width="177.8" height="74.8" rx="6.5" fill="#fff"/><rect x="60.65" y="1082.00" width="174.8" height="71.8" rx="5" fill="#00a8ea"/><rect x="102.85" y="1106.45" width="133.60" height="1.1" fill="#fff" fill-opacity=".8"/><circle cx="86.85" cy="1106.90" r="17" fill="#fff"/><rect x="75.55" y="1104.80" width="22.6" height="4.6" rx="2.3" fill="#00a8ea"/><text class="n" x="109.84" y="1102.20" textLength="53.52" lengthAdjust="spacingAndGlyphs">KERRY</text><text class="v" x="110.36" y="1127.75" textLength="65.32" lengthAdjust="spacingAndGlyphs">€150,000</text><text class="v"><tspan class="v" x="109.89" y="1150.55" textLength="22.95" lengthAdjust="spacingAndGlyphs">0%</tspan> <tspan class="p" x="136.84" y="1147.70">|</tspan> <tspan class="v" x="145.70" y="1150.55" textLength="57.31" lengthAdjust="spacingAndGlyphs">-38.78%</tspan></text></g>
<g><rect x="574.95" y="1094.38" width="177.8" height="74.8" rx="6.5" fill="#fff"/><rect x="576.45" y="1095.88" width="174.8" height="71.8" rx="5" fill="#ed1c24"/><rect x="618.75" y="1120.33" width="133.50" height="1.1" fill="#fff" fill-opacity=".8"/><circle cx="602.75" cy="1121.28" r="17" fill="#fff"/><path d="M602.75 1128.28 L611.55 1120.98 L611.55 1117.38 L609.05 1117.08 L605.25 1120.28 L605.25 1103.88 L600.25 1103.88 L600.25 1120.28 L596.45 1117.08 L593.95 1117.38 L593.95 1120.98Z" fill="#ed1c24" stroke="#ed1c24" stroke-width=".4" stroke-linejoin="round"/><text class="n" x="625.86" y="1116.08" textLength="102.65" lengthAdjust="spacingAndGlyphs">WATERFORD</text><text class="v" x="625.36" y="1141.63" textLength="65.32" lengthAdjust="spacingAndGlyphs">€168,000</text><text class="v"><tspan class="v" x="624.90" y="1162.11" textLength="49.60" lengthAdjust="spacingAndGlyphs">-0.59%</tspan> <tspan class="p" x="678.48" y="1159.26">|</tspan> <tspan class="v" x="687.56" y="1162.11" textLength="55.68" lengthAdjust="spacingAndGlyphs">-41.05%</tspan></text></g>
<g><rect x="302.65" y="1135.50" width="177.8" height="74.8" rx="6.5" fill="#fff"/><rect x="304.15" y="1137.00" width="174.8" height="71.8" rx="5" fill="#ed1c24"/><rect x="346.45" y="1161.45" width="133.50" height="1.1" fill="#fff" fill-opacity=".8"/><circle cx="330.45" cy="1162.40" r="17" fill="#fff"/><path d="M330.45 1169.40 L339.25 1162.10 L339.25 1158.50 L336.75 1158.20 L332.95 1161.40 L332.95 1145.00 L327.95 1145.00 L327.95 1161.40 L324.15 1158.20 L321.65 1158.50 L321.65 1162.10Z" fill="#ed1c24" stroke="#ed1c24" stroke-width=".4" stroke-linejoin="round"/><text class="n" x="353.89" y="1157.20" textLength="44.11" lengthAdjust="spacingAndGlyphs">CORK</text><text class="v" x="353.96" y="1182.75" textLength="64.71" lengthAdjust="spacingAndGlyphs">€231,000</text><text class="v"><tspan class="v" x="353.53" y="1205.55" textLength="46.93" lengthAdjust="spacingAndGlyphs">-1.70%</tspan> <tspan class="p" x="404.49" y="1202.70">|</tspan> <tspan class="v" x="413.76" y="1205.55" textLength="56.49" lengthAdjust="spacingAndGlyphs">-31.04%</tspan></text></g>
</g>
</svg>
</body>
</html>
